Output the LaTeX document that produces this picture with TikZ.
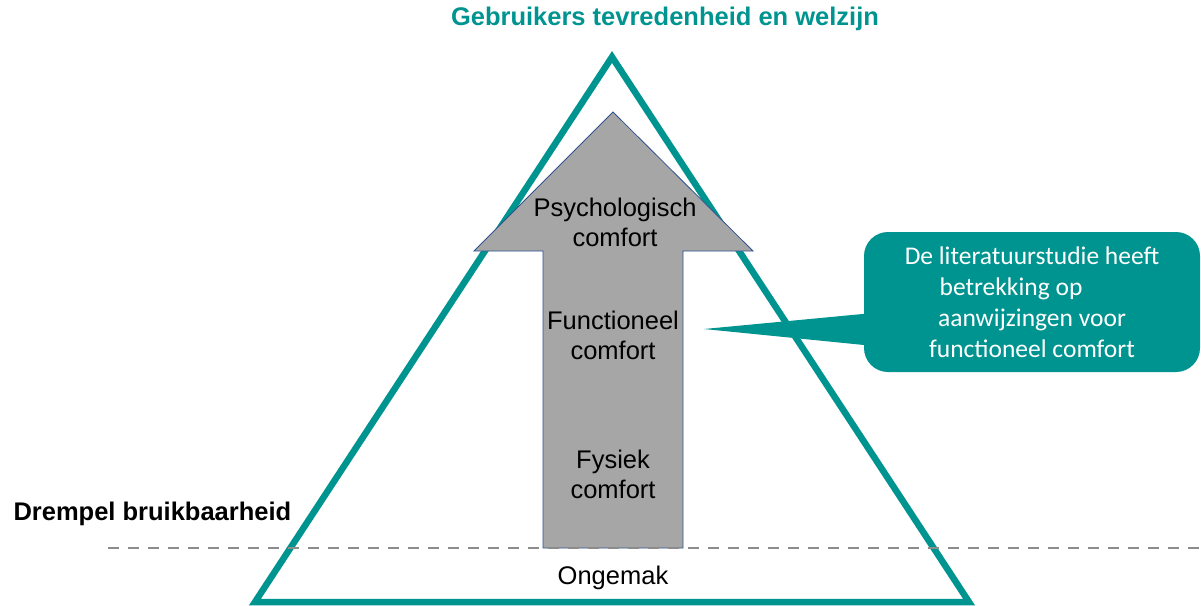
\documentclass[tikz,border=0pt]{standalone}
\definecolor{pyramidteal}{RGB}{0, 148, 144}
\definecolor{arrowgray}{RGB}{166, 166, 166}
\definecolor{arrowedge}{RGB}{47, 82, 143}
\definecolor{thresholdgray}{RGB}{140, 140, 140}
\usepackage{tikz}
\usepackage{fontspec}
\setmainfont{Liberation Sans}
\newfontfamily\calibri{Carlito}
\usetikzlibrary{shapes,arrows,positioning,calc}

\begin{document}
\begin{tikzpicture}[x=1pt, y=-1pt, font=\fontsize{25.5}{30}\selectfont]
    \useasboundingbox (0,0) rectangle (1201,605);

    % Pyramid
    \draw[line width=6.5pt, color=pyramidteal, line join=miter] (612,57) -- (969,602) -- (255,602) -- cycle;

    % Comfort arrow
    \draw[fill=arrowgray, draw=arrowedge, line width=0.8pt] (543,548) -- (543,251) -- (474,251) -- (613,112) -- (753,251) -- (683,251) -- (683,548) -- cycle;

    % Usability threshold
    \draw[dash pattern=on 11pt off 9pt, line width=2.5pt, color=thresholdgray] (108,548) coordinate (threshold_start) -- (1201,548) coordinate (threshold_end);

    % Labels
    \node[text=pyramidteal, font=\fontsize{25.5}{30}\selectfont\bfseries] (title) at (665,19) {Gebruikers tevredenheid en welzijn};
    \node[anchor=west, font=\fontsize{25.5}{30}\selectfont\bfseries] (threshold) at (10,514) {Drempel bruikbaarheid};
    \node[align=center] (psych_comfort) at (615,222) {Psychologisch\\comfort};
    \node[align=center] (func_comfort) at (613,335) {Functioneel\\comfort};
    \node[align=center] (phys_comfort) at (613,474) {Fysiek\\comfort};
    \node (discomfort) at (613,578) {Ongemak};

    % Literature note
    \node[rectangle, rounded corners=24pt, fill=pyramidteal, text=white, minimum width=336pt, minimum height=140pt, align=center, font=\calibri\fontsize{25.5}{31}\selectfont] (note) at (1032,302) {De literatuurstudie heeft\\betrekking op\rule{42pt}{0pt}\\aanwijzingen voor\\functioneel comfort};
    \coordinate (note_tip) at (704,329);
    \fill[pyramidteal] ($(note.west)+(20,10)$) -- (note_tip) -- ($(note.west)+(20,45)$) -- cycle;
\end{tikzpicture}
\end{document}
